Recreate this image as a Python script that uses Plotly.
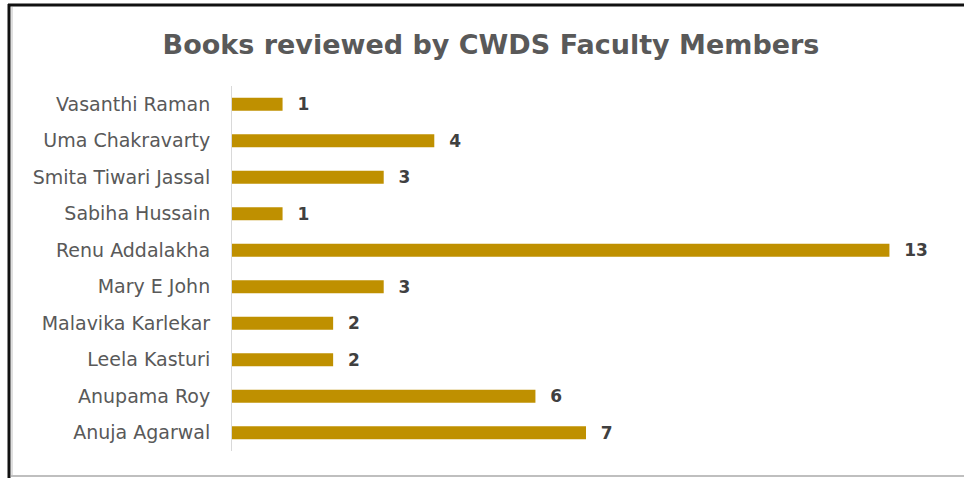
import plotly.graph_objects as go

names = ["Vasanthi Raman", "Uma Chakravarty", "Smita Tiwari Jassal", "Sabiha Hussain",
         "Renu Addalakha", "Mary E John", "Malavika Karlekar", "Leela Kasturi",
         "Anupama Roy", "Anuja Agarwal"]
books = [1, 4, 3, 1, 13, 3, 2, 2, 6, 7]

title_text = "Books reviewed by CWDS Faculty Members"

FONT = "DejaVu Sans"

fig = go.Figure()
fig.add_trace(go.Bar(
    y=names, x=books, orientation="h",
    marker=dict(color="#BF9000", line=dict(width=0)),
    width=0.36,
    text=[f"{v}" for v in books],
    texttemplate="  %{text}",
    textposition="outside",
    constraintext="none",
    cliponaxis=False,
    outsidetextfont=dict(family=FONT, size=17, color="#404040", weight="bold"),
    hoverinfo="skip",
))

W, H = 964, 478
L, R, T, B = 232, 24, 86, 27
pw, ph = W - L - R, H - T - B

def px(x):
    return (x - L) / pw

def py(y):
    return (H - B - y) / ph

shapes = [
    dict(type="line", xref="paper", yref="paper", x0=px(9), x1=px(9), y0=py(4), y1=py(478),
         line=dict(color="#111111", width=3)),
    dict(type="line", xref="paper", yref="paper", x0=px(8), x1=px(964), y0=py(5), y1=py(5),
         line=dict(color="#111111", width=3)),
    dict(type="line", xref="paper", yref="paper", x0=px(12), x1=px(12), y0=py(7), y1=py(476),
         line=dict(color="#BFBFBF", width=1)),
    dict(type="line", xref="paper", yref="paper", x0=px(11), x1=px(964), y0=py(476), y1=py(476),
         line=dict(color="#BFBFBF", width=2)),
]

fig.update_layout(
    width=W, height=H,
    margin=dict(l=L, r=R, t=T, b=B),
    paper_bgcolor="white", plot_bgcolor="white",
    showlegend=False,
    title=dict(text=title_text, x=491 / W, xanchor="center", y=1 - 45 / H, yanchor="middle",
               font=dict(family=FONT, size=27, color="#595959", weight="bold")),
    xaxis=dict(range=[0, 14], showgrid=False, zeroline=False, showticklabels=False,
               showline=False, ticks=""),
    yaxis=dict(categoryorder="array", categoryarray=names[::-1], autorange=False,
               range=[-0.5, len(names) - 0.5],
               showgrid=False, zeroline=False, showline=True, linecolor="#D9D9D9", linewidth=1,
               ticks="", ticklabelstandoff=17,
               tickfont=dict(family=FONT, size=19, color="#595959")),
    shapes=shapes,
    font=dict(family=FONT),
)

fig.write_html("out.html", config={"displayModeBar": False},
               post_script="document.body.style.margin='0px';")
